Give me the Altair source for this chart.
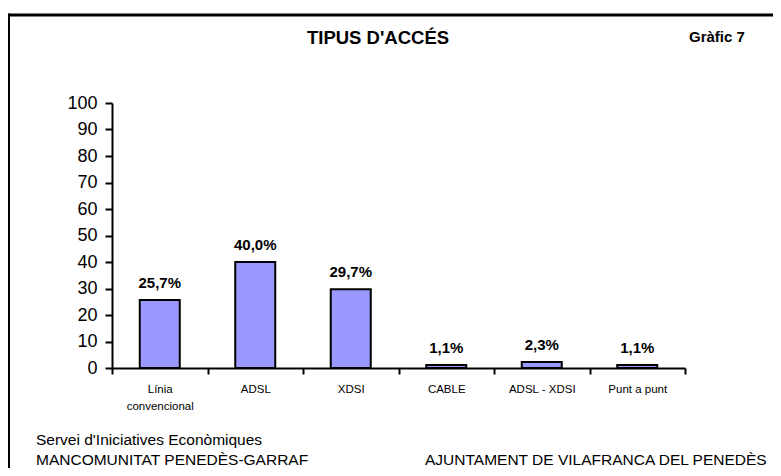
import altair as alt
import pandas as pd

categories = ["Línia convencional", "ADSL", "XDSI", "CABLE", "ADSL - XDSI", "Punt a punt"]
values = [25.7, 40.0, 29.7, 1.1, 2.3, 1.1]
y_ticks = [0, 10, 20, 30, 40, 50, 60, 70, 80, 90, 100]

title_text = "TIPUS D'ACCÉS"
chart_no = "Gràfic 7"
footer_left_1 = "Servei d'Iniciatives Econòmiques"
footer_left_2 = "MANCOMUNITAT PENEDÈS-GARRAF"
footer_right = "AJUNTAMENT DE VILAFRANCA DEL PENEDÈS"

df = pd.DataFrame({"cat": categories, "val": values})
one = pd.DataFrame({"a": [0]})

FONT = "Liberation Sans"

x_enc = alt.X(
    "cat:N", sort=categories, title=None,
    scale=alt.Scale(paddingInner=0, paddingOuter=0),
    axis=alt.Axis(
        labelAngle=0, tickBand="extent", tickSize=6, tickWidth=2, tickColor="black",
        domainColor="black", domainWidth=2, labelFont=FONT, labelFontSize=11.5,
        labelColor="black", labelPadding=9, labelBaseline="top", labelLineHeight=17,
        labelExpr="datum.label == 'Línia convencional' ? ['Línia', 'convencional'] : datum.label",
    ),
)
y_enc = alt.Y(
    "val:Q", title=None,
    scale=alt.Scale(domain=[0, 100], nice=False),
    axis=alt.Axis(
        values=y_ticks, grid=False, tickSize=7, tickWidth=2, tickColor="black",
        domainColor="black", domainWidth=2, labelFont=FONT, labelFontSize=18,
        labelColor="black", labelPadding=8, labelOverlap=False,
    ),
)

bars = alt.Chart(df).mark_bar(size=40, color="#9999ff", stroke="black", strokeWidth=2).encode(
    x=x_enc, y=y_enc
)

labels = alt.Chart(df).transform_calculate(
    lab="replace(format(datum.val, '.1f'), '.', ',') + '%'"
).mark_text(font=FONT, fontSize=15, fontWeight="bold", baseline="alphabetic", dy=-12, color="black").encode(
    x=x_enc, y=y_enc, text="lab:N"
)

def txt(s, x, y, size, weight="normal", align="left"):
    return alt.Chart(one).mark_text(
        font=FONT, fontSize=size, fontWeight=weight, align=align, baseline="alphabetic", color="black"
    ).encode(x=alt.value(x), y=alt.value(y), text=alt.value(s))

title = txt(title_text, 266, -59, 18.5, "bold", "center")
gno = txt(chart_no, 577, -61, 15, "bold")
f1 = txt(footer_left_1, -76, 342, 15.5)
f2 = txt(footer_left_2, -76, 362, 15.5)
f3 = txt(footer_right, 313, 362, 15.5)

frame_top = alt.Chart(one).mark_rule(color="black", strokeWidth=3).encode(
    x=alt.value(-105), x2=alt.value(700), y=alt.value(-88)
)
frame_left = alt.Chart(one).mark_rule(color="black", strokeWidth=3).encode(
    x=alt.value(-103.5), y=alt.value(-89.5), y2=alt.value(420)
)

chart = alt.layer(bars, labels, title, gno, f1, f2, f3, frame_top, frame_left).properties(
    width=573, height=265,
    background="white",
    autosize=alt.AutoSizeParams(type="none"),
    padding={"left": 104, "top": 95, "right": 88, "bottom": 100},
).configure_view(strokeWidth=0, stroke="transparent")

chart.save("out.html", embed_options={"renderer": "svg", "actions": False})
